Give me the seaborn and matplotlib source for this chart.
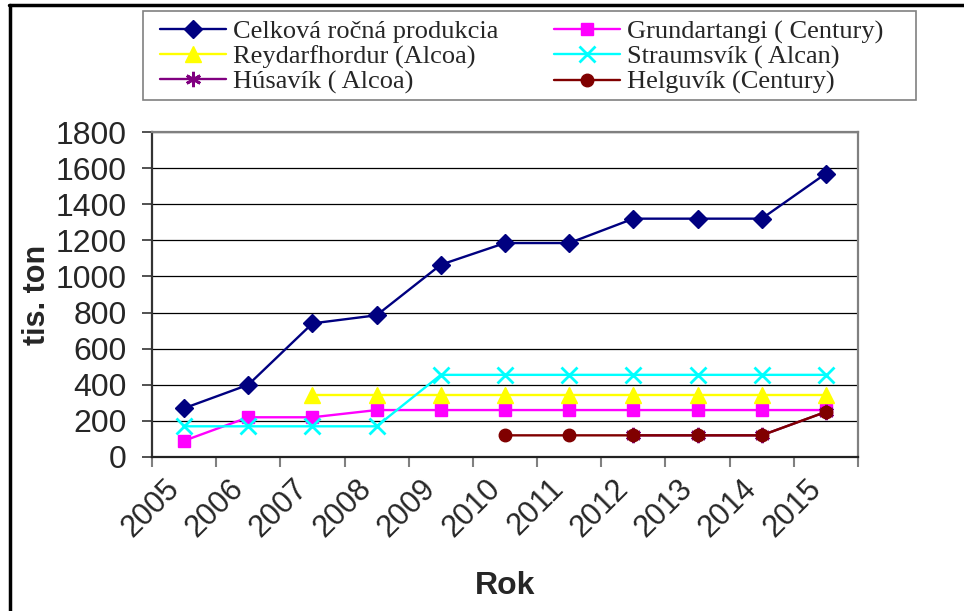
import numpy as np
import pandas as pd
import seaborn as sns
import matplotlib.pyplot as plt
from matplotlib.lines import Line2D
from matplotlib.patches import Rectangle
from matplotlib.transforms import ScaledTranslation

sns.set_style("white")
plt.rcParams['font.family'] = ['Liberation Sans', 'DejaVu Sans']

roky = ["2005", "2006", "2007", "2008", "2009", "2010",
        "2011", "2012", "2013", "2014", "2015"]

celkova = [270, 400, 740, 785, 1065, 1185, 1185, 1320, 1320, 1320, 1570]
grundartangi = [90, 220, 220, 260, 260, 260, 260, 260, 260, 260, 260]
reydarfhordur = [None, None, 345, 345, 345, 345, 345, 345, 345, 345, 345]
straumsvik = [170, 170, 170, 170, 455, 455, 455, 455, 455, 455, 455]
husavik = [None, None, None, None, None, None, None, 120, 120, 120, 250]
helguvik = [None, None, None, None, None, 120, 120, 120, 120, 120, 250]

nazvy = ["Celková ročná produkcia", "Grundartangi ( Century)",
         "Reydarfhordur (Alcoa)", "Straumsvík ( Alcan)",
         "Húsavík ( Alcoa)", "Helguvík (Century)"]
hodnoty = [celkova, grundartangi, reydarfhordur, straumsvik, husavik, helguvik]
farby = ["#000080", "#FF00FF", "#FFFF00", "#00FFFF", "#800080", "#800000"]
znacky = ["D", "s", "^", "x", (6, 2, 0), "o"]
velkosti = [9, 9, 11, 12, 11, 9]

fig = plt.figure(figsize=(9.64, 6.11), dpi=100)
ax = fig.add_axes([152/964, 1-457/611, (858-152)/964, (457-132)/611])

handles = {}
for nazov, vals, c, m, ms in zip(nazvy, hodnoty, farby, znacky, velkosti):
    df = pd.DataFrame({"x": np.arange(len(roky)), "y": vals}).dropna()
    mew = 2 if m in ("x", (6, 2, 0)) else 1
    sns.lineplot(data=df, x="x", y="y", ax=ax, color=c, marker=m,
                 markersize=ms, markeredgecolor=c, markerfacecolor=c,
                 markeredgewidth=mew, linewidth=1.7, legend=False)
    handles[nazov] = Line2D([], [], color=c, marker=m, markersize=ms,
                            markeredgecolor=c, markerfacecolor=c,
                            markeredgewidth=mew, linewidth=1.7)

ax.set_xlim(-0.5, 10.5)
ax.set_ylim(0, 1800)
ax.set_yticks(range(0, 1801, 200))
ax.tick_params(axis='y', labelsize=23, length=7, width=1.2, color='#333333',
               direction='out', left=True, pad=11)
ax.set_xticks(np.arange(-0.5, 11, 1))
ax.set_xticklabels([])
ax.set_xticks(range(11), minor=True)
ax.set_xticklabels(roky, minor=True, rotation=45, ha='right',
                   rotation_mode='anchor', fontsize=22)
ax.tick_params(axis='x', which='major', length=7, width=1.5, color='#808080',
               direction='out', bottom=True)
ax.tick_params(axis='x', which='minor', length=0, pad=12)
for lbl in ax.get_xticklabels(minor=True):
    lbl.set_transform(lbl.get_transform() +
                      ScaledTranslation(-20/100, 0, fig.dpi_scale_trans))

ax.yaxis.grid(True, color='black', linewidth=0.9)
ax.xaxis.grid(False)
ax.set_axisbelow(True)
for s in ['top', 'right']:
    ax.spines[s].set_color('#808080')
    ax.spines[s].set_linewidth(1.6)
ax.spines['left'].set_color('#333333')
ax.spines['left'].set_linewidth(1.6)
ax.spines['bottom'].set_color('#222222')
ax.spines['bottom'].set_linewidth(1.6)

ax.set_xlabel("Rok", fontsize=23, fontweight='bold')
ax.set_ylabel("tis. ton", fontsize=22, fontweight='bold')
ax.xaxis.set_label_coords(0.5, -0.35)
ax.yaxis.set_label_coords(-0.142, 0.5)

# legenda: riadky po dvoch, ramik kresleny zvlast
poradie = [nazvy[0], nazvy[2], nazvy[4], nazvy[1], nazvy[3], nazvy[5]]
leg = fig.legend([handles[n] for n in poradie], poradie, ncol=2,
                 loc='upper left', bbox_to_anchor=(160/964, 1-20/611),
                 borderaxespad=0, borderpad=0, frameon=False,
                 prop={'family': 'Liberation Serif', 'size': 19},
                 handlelength=2.5, handletextpad=0.27, labelspacing=0.05,
                 columnspacing=2.1)
fig.add_artist(Rectangle((143/964, 1-100/611), (916-143)/964, 89/611,
                         transform=fig.transFigure, fill=False,
                         edgecolor='#808080', linewidth=1.2))

fig.add_artist(Line2D([9/964, 1], [1-5/611, 1-5/611], color='black', lw=2.5,
                      transform=fig.transFigure))
fig.add_artist(Line2D([10/964, 10/964], [0, 1-5/611], color='black', lw=2.5,
                      transform=fig.transFigure))

fig.savefig("out.png", dpi=100)
